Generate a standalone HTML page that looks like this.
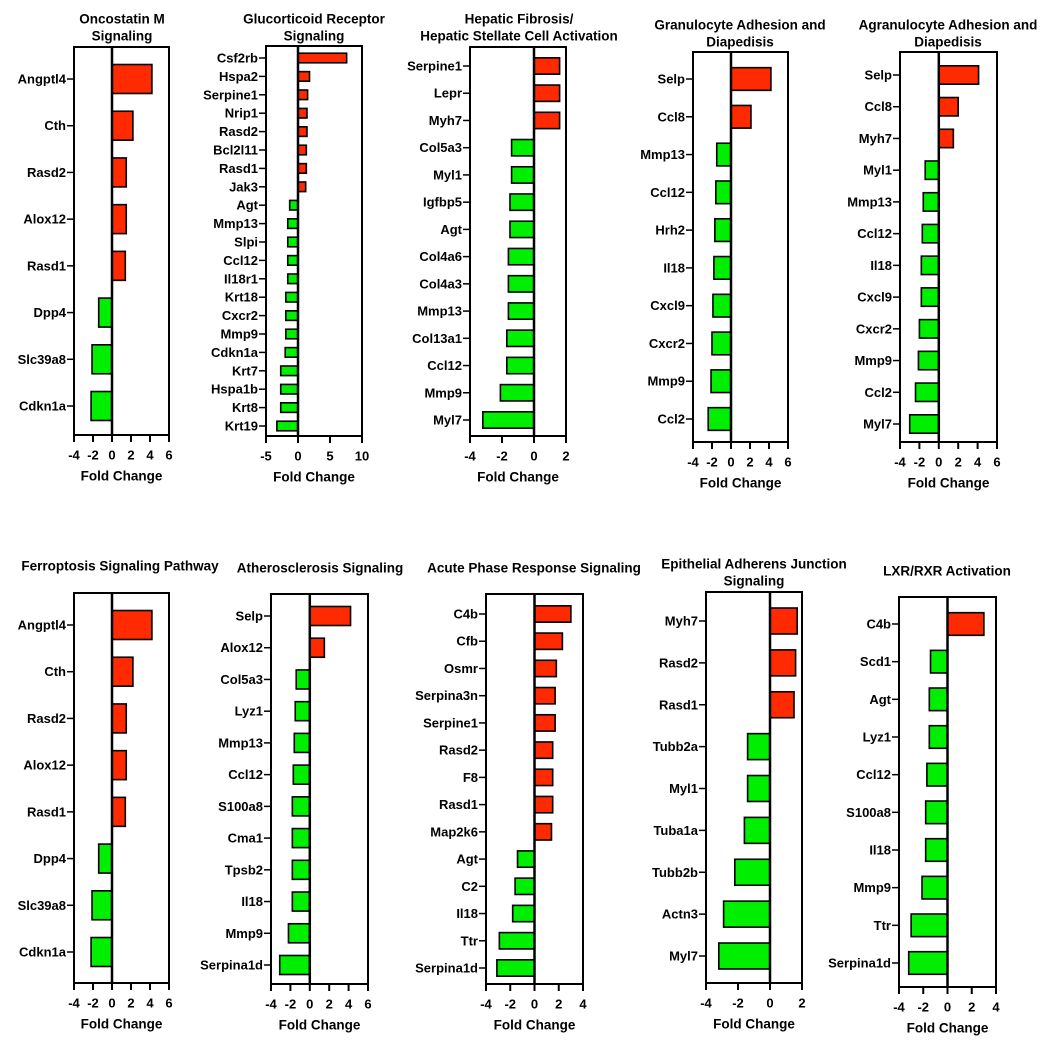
<!DOCTYPE html>
<html><head><meta charset="utf-8">
<style>
html,body{margin:0;padding:0;background:#fff;}
svg{display:block;font-family:"Liberation Sans",Arial,sans-serif;font-weight:bold;}
</style></head>
<body>
<svg id="chart" width="1050" height="1047" viewBox="0 0 1050 1047" xmlns="http://www.w3.org/2000/svg"></svg>
<script>
// ---- data ----
const oncoCats = ["Angptl4","Cth","Rasd2","Alox12","Rasd1","Dpp4","Slc39a8","Cdkn1a"];
const oncoVals = [4.2,2.2,1.5,1.5,1.4,-1.4,-2.1,-2.2];
const glucoCats = ["Csf2rb","Hspa2","Serpine1","Nrip1","Rasd2","Bcl2l11","Rasd1","Jak3","Agt","Mmp13","Slpi","Ccl12","Il18r1","Krt18","Cxcr2","Mmp9","Cdkn1a","Krt7","Hspa1b","Krt8","Krt19"];
const glucoVals = [7.6,1.8,1.5,1.4,1.4,1.3,1.3,1.2,-1.3,-1.6,-1.6,-1.6,-1.6,-1.9,-1.9,-1.9,-2.0,-2.7,-2.7,-2.7,-3.3];
const hepCats = ["Serpine1","Lepr","Myh7","Col5a3","Myl1","Igfbp5","Agt","Col4a6","Col4a3","Mmp13","Col13a1","Ccl12","Mmp9","Myl7"];
const hepVals = [1.6,1.6,1.6,-1.4,-1.4,-1.5,-1.5,-1.6,-1.6,-1.6,-1.7,-1.7,-2.1,-3.2];
const granCats = ["Selp","Ccl8","Mmp13","Ccl12","Hrh2","Il18","Cxcl9","Cxcr2","Mmp9","Ccl2"];
const granVals = [4.2,2.1,-1.5,-1.6,-1.7,-1.8,-1.9,-2.0,-2.1,-2.4];
const agranCats = ["Selp","Ccl8","Myh7","Myl1","Mmp13","Ccl12","Il18","Cxcl9","Cxcr2","Mmp9","Ccl2","Myl7"];
const agranVals = [4.1,2.0,1.5,-1.4,-1.6,-1.7,-1.8,-1.8,-2.0,-2.1,-2.4,-3.0];
const ferroCats = ["Angptl4","Cth","Rasd2","Alox12","Rasd1","Dpp4","Slc39a8","Cdkn1a"];
const ferroVals = [4.2,2.2,1.5,1.5,1.4,-1.4,-2.1,-2.2];
const athCats = ["Selp","Alox12","Col5a3","Lyz1","Mmp13","Ccl12","S100a8","Cma1","Tpsb2","Il18","Mmp9","Serpina1d"];
const athVals = [4.2,1.5,-1.4,-1.5,-1.6,-1.7,-1.8,-1.8,-1.8,-1.8,-2.2,-3.1];
const acuteCats = ["C4b","Cfb","Osmr","Serpina3n","Serpine1","Rasd2","F8","Rasd1","Map2k6","Agt","C2","Il18","Ttr","Serpina1d"];
const acuteVals = [3.0,2.3,1.8,1.7,1.7,1.5,1.5,1.5,1.4,-1.4,-1.6,-1.8,-2.9,-3.1];
const epiCats = ["Myh7","Rasd2","Rasd1","Tubb2a","Myl1","Tuba1a","Tubb2b","Actn3","Myl7"];
const epiVals = [1.7,1.6,1.5,-1.4,-1.4,-1.6,-2.2,-2.9,-3.2];
const lxrCats = ["C4b","Scd1","Agt","Lyz1","Ccl12","S100a8","Il18","Mmp9","Ttr","Serpina1d"];
const lxrVals = [3.0,-1.4,-1.5,-1.5,-1.7,-1.8,-1.8,-2.1,-3.0,-3.2];
const ticksA = [-4,-2,0,2,4,6];
const ticksB = [-5,0,5,10];
const ticksC = [-4,-2,0,2];
const ticksD = [-4,-2,0,2,4];

const NS = "http://www.w3.org/2000/svg";
const svg = document.getElementById("chart");
function mk(tag, attrs, parent){
  const e = document.createElementNS(NS, tag);
  for (const k in attrs) e.setAttribute(k, attrs[k]);
  (parent||svg).appendChild(e);
  return e;
}

function panel(p){
  const g = mk("g", {});
  
  
  const x = v => p.x0 + (v - p.xmin) / (p.xmax - p.xmin) * (p.x1 - p.x0);
  const n = p.cats.length;
  const y = i => p.yFirst + i * (p.yLast - p.yFirst) / (n - 1);
  const step = n > 1 ? (p.yLast - p.yFirst) / (n - 1) : 40;
  const bh = step * p.bf;
  p.title.forEach((t, i) => {
    const tt = mk("text", {x: p.tx, y: p.ty + i * 17, "text-anchor": "middle", "dominant-baseline": "central", "font-size": "13.5px"}, g);
    tt.textContent = t;
    
    
  });
  const box = mk("rect", {x: p.x0, y: p.y0, width: p.x1 - p.x0, height: p.y1 - p.y0, fill: "none", stroke: "#000", "stroke-width": 2}, g);
  
  
  p.vals.forEach((v, i) => {
    const a = x(0), b = x(v);
    const r = mk("rect", {x: Math.min(a, b), y: y(i) - bh / 2, width: Math.abs(b - a), height: bh, fill: v >= 0 ? "#ff2a00" : "#00ee00", stroke: "#000", "stroke-width": 1.6}, g);
    
    
    mk("line", {x1: p.x0 - 7, x2: p.x0, y1: y(i), y2: y(i), stroke: "#000", "stroke-width": 1.5}, g);
    const lt = mk("text", {x: p.x0 - 8, y: y(i), "text-anchor": "end", "dominant-baseline": "central", "font-size": "13px"}, g);
    lt.textContent = p.cats[i];
    
    
  });
  const z = mk("line", {x1: x(0), x2: x(0), y1: p.y0, y2: p.y1, stroke: "#000", "stroke-width": 2.5}, g);
  
  
  p.ticks.forEach(t => {
    mk("line", {x1: x(t), x2: x(t), y1: p.y1, y2: p.y1 + 7, stroke: "#000", "stroke-width": 2}, g);
    const tl = mk("text", {x: x(t), y: p.y1 + 20, "text-anchor": "middle", "dominant-baseline": "central", "font-size": "13px"}, g);
    tl.textContent = t;
    
    
  });
  const xt = mk("text", {x: (p.x0 + p.x1) / 2, y: p.y1 + 41, "text-anchor": "middle", "dominant-baseline": "central", "font-size": "13.5px"}, g);
  xt.textContent = "Fold Change";
  
  
}

panel({name:"oncostatin", cats:oncoCats, vals:oncoVals, ticks:ticksA, xmin:-4, xmax:6, x0:74, x1:169, y0:47, y1:435, yFirst:79, yLast:406, bf:0.62, title:["Oncostatin M","Signaling"], tx:122, ty:19});
panel({name:"glucocorticoid", cats:glucoCats, vals:glucoVals, ticks:ticksB, xmin:-5, xmax:10, x0:266, x1:362, y0:46, y1:436, yFirst:58, yLast:426, bf:0.52, title:["Glucorticoid Receptor","Signaling"], tx:314, ty:19});
panel({name:"hepatic", cats:hepCats, vals:hepVals, ticks:ticksC, xmin:-4, xmax:2, x0:470, x1:566, y0:47, y1:436, yFirst:66, yLast:420, bf:0.6, title:["Hepatic Fibrosis/","Hepatic Stellate Cell Activation"], tx:519, ty:19});
panel({name:"granulocyte", cats:granCats, vals:granVals, ticks:ticksA, xmin:-4, xmax:6, x0:693, x1:788, y0:52, y1:442, yFirst:79, yLast:419, bf:0.6, title:["Granulocyte Adhesion and","Diapedisis"], tx:740, ty:25});
panel({name:"agranulocyte", cats:agranCats, vals:agranVals, ticks:ticksA, xmin:-4, xmax:6, x0:900, x1:997, y0:52, y1:442, yFirst:75, yLast:424, bf:0.58, title:["Agranulocyte Adhesion and","Diapedisis"], tx:948, ty:25});
panel({name:"ferroptosis", cats:ferroCats, vals:ferroVals, ticks:ticksA, xmin:-4, xmax:6, x0:74, x1:169, y0:593, y1:983, yFirst:625, yLast:952, bf:0.62, title:["Ferroptosis Signaling Pathway"], tx:120, ty:566});
panel({name:"atherosclerosis", cats:athCats, vals:athVals, ticks:ticksA, xmin:-4, xmax:6, x0:271, x1:368, y0:594, y1:984, yFirst:616, yLast:965, bf:0.6, title:["Atherosclerosis Signaling"], tx:320, ty:568});
panel({name:"acute-phase", cats:acuteCats, vals:acuteVals, ticks:ticksD, xmin:-4, xmax:4, x0:486, x1:583, y0:594, y1:984, yFirst:614, yLast:968, bf:0.6, title:["Acute Phase Response Signaling"], tx:534, ty:568});
panel({name:"epithelial", cats:epiCats, vals:epiVals, ticks:ticksC, xmin:-4, xmax:2, x0:706, x1:802, y0:592, y1:983, yFirst:621, yLast:956, bf:0.62, title:["Epithelial Adherens Junction","Signaling"], tx:754, ty:564});
panel({name:"lxr-rxr", cats:lxrCats, vals:lxrVals, ticks:ticksD, xmin:-4, xmax:4, x0:899, x1:996, y0:597, y1:987, yFirst:624, yLast:963, bf:0.6, title:["LXR/RXR Activation"], tx:947, ty:571});
</script>
</body></html>
